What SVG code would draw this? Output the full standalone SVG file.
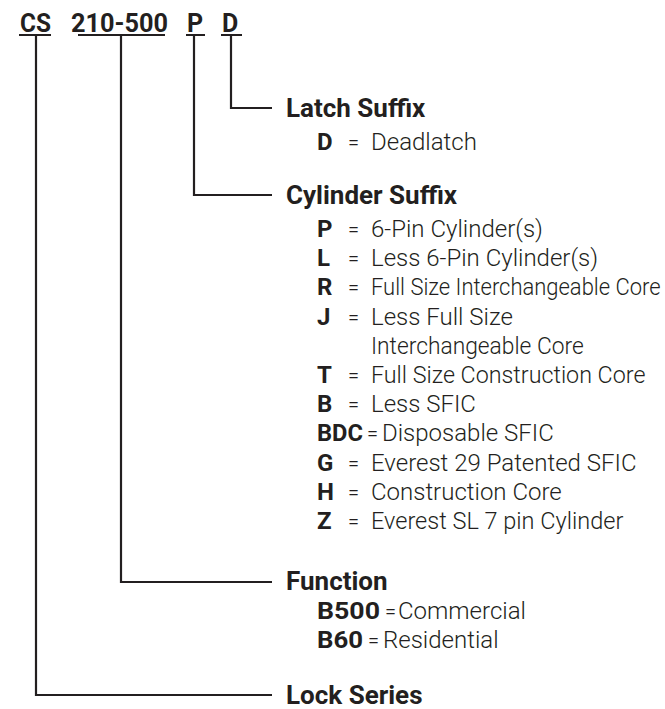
<svg xmlns="http://www.w3.org/2000/svg" width="665" height="709" viewBox="0 0 665 709">
<style>
text{font-family:Roboto,"Liberation Sans",sans-serif;fill:#231f20}
.code{font-size:25px;font-weight:700}
.h{font-size:26px;font-weight:700}
.k{font-size:24px;font-weight:700}
.e{font-size:20px;font-weight:300}
.d{font-size:24px;font-weight:300}
.ln{fill:none;stroke:#231f20;stroke-width:2.2;stroke-linejoin:miter;stroke-linecap:butt}
</style>
<rect width="665" height="709" fill="#ffffff"/>
<g id="code">
<text class="code" x="20" y="32" textLength="31" lengthAdjust="spacingAndGlyphs">CS</text>
<text class="code" x="71" y="32" textLength="97" lengthAdjust="spacingAndGlyphs">210-500</text>
<text class="code" x="187" y="32">P</text>
<text class="code" x="222" y="32">D</text>
<path class="ln" d="M19,35H51M78,35H165M186,35H205M221,35H242"/>
</g>
<g id="connectors">
<path class="ln" d="M36,35V695H272"/>
<path class="ln" d="M121,35V582H272"/>
<path class="ln" d="M194,35V195H272"/>
<path class="ln" d="M231,35V108H272"/>
</g>
<g id="latch-suffix">
<text class="h" x="286" y="117">Latch Suffix</text>
<text class="k" x="317" y="150">D</text><text class="e" x="348" y="149">=</text><text class="d" x="371" y="150">Deadlatch</text>
</g>
<g id="cylinder-suffix">
<text class="h" x="286" y="204">Cylinder Suffix</text>
<text class="k" x="317" y="237">P</text><text class="e" x="348" y="236">=</text><text class="d" x="371" y="237">6-Pin Cylinder(s)</text>
<text class="k" x="317" y="266.2">L</text><text class="e" x="348" y="265.2">=</text><text class="d" x="371" y="266.2">Less 6-Pin Cylinder(s)</text>
<text class="k" x="317" y="295.4">R</text><text class="e" x="348" y="294.4">=</text><text class="d" transform="translate(371 295.4) scale(0.915 1)">Full Size Interchangeable Core</text>
<text class="k" x="317" y="324.6">J</text><text class="e" x="348" y="323.6">=</text><text class="d" x="371" y="324.6">Less Full Size</text>
<text class="d" transform="translate(371 353.8) scale(0.95 1)">Interchangeable Core</text>
<text class="k" x="317" y="383">T</text><text class="e" x="348" y="382">=</text><text class="d" transform="translate(371 383) scale(0.97 1)">Full Size Construction Core</text>
<text class="k" x="317" y="412.2">B</text><text class="e" x="348" y="411.2">=</text><text class="d" x="371" y="412.2">Less SFIC</text>
<text class="k" x="317" y="441.4" textLength="46" lengthAdjust="spacingAndGlyphs">BDC</text><text class="e" x="367" y="440.4">=</text><text class="d" x="382" y="441.4">Disposable SFIC</text>
<text class="k" x="317" y="470.6">G</text><text class="e" x="348" y="469.6">=</text><text class="d" x="371" y="470.6">Everest 29 Patented SFIC</text>
<text class="k" x="317" y="499.8">H</text><text class="e" x="348" y="498.8">=</text><text class="d" x="371" y="499.8">Construction Core</text>
<text class="k" x="317" y="529">Z</text><text class="e" x="348" y="528">=</text><text class="d" transform="translate(371 529) scale(0.98 1)">Everest SL 7 pin Cylinder</text>
</g>
<g id="function">
<text class="h" x="286" y="590">Function</text>
<text class="k" x="317" y="619" textLength="63" lengthAdjust="spacingAndGlyphs">B500</text><text class="e" x="385" y="618">=</text><text class="d" x="398" y="619">Commercial</text>
<text class="k" x="317" y="648" textLength="46" lengthAdjust="spacingAndGlyphs">B60</text><text class="e" x="368" y="647">=</text><text class="d" x="383" y="648">Residential</text>
</g>
<g id="lock-series">
<text class="h" x="286" y="704">Lock Series</text>
</g>
</svg>
